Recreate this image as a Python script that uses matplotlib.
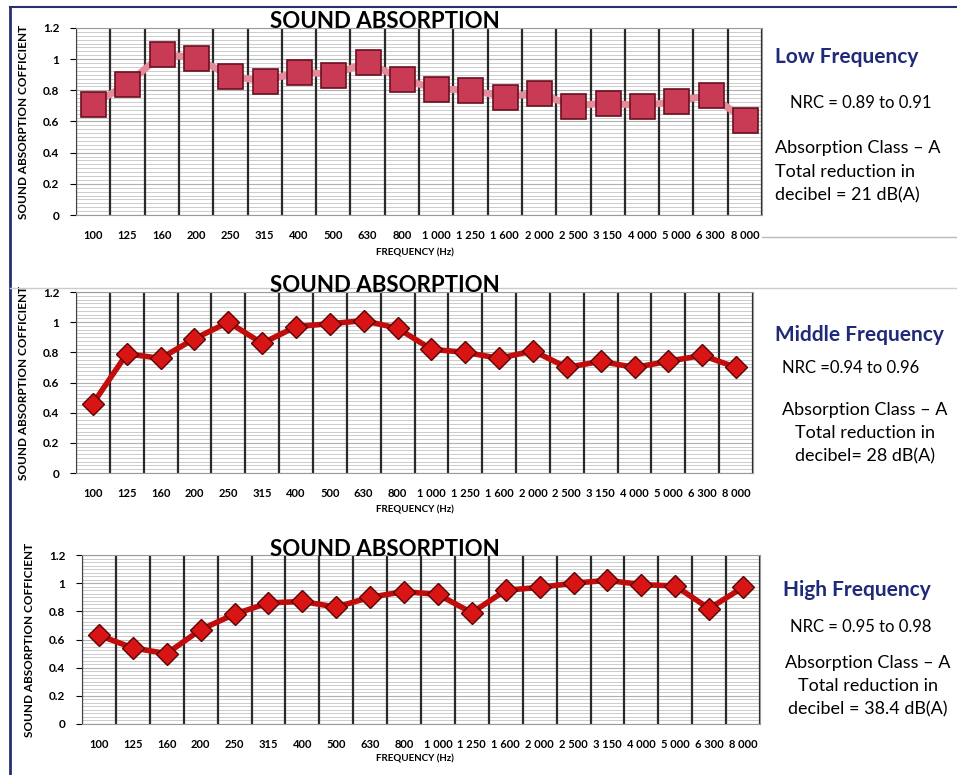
import numpy as np
import matplotlib.pyplot as plt
from matplotlib.lines import Line2D
from matplotlib.ticker import MultipleLocator

plt.rcParams['font.family'] = ['Lato', 'DejaVu Sans']

FREQS = ["100", "125", "160", "200", "250", "315", "400", "500", "630", "800",
         "1 000", "1 250", "1 600", "2 000", "2 500", "3 150", "4 000", "5 000",
         "6 300", "8 000"]

low_vals = [0.71, 0.84, 1.03, 1.01, 0.89, 0.86, 0.92, 0.90, 0.98, 0.87,
            0.81, 0.80, 0.76, 0.78, 0.70, 0.72, 0.70, 0.73, 0.77, 0.61]
mid_vals = [0.46, 0.79, 0.76, 0.89, 1.00, 0.86, 0.97, 0.99, 1.01, 0.96,
            0.82, 0.80, 0.76, 0.81, 0.70, 0.74, 0.70, 0.74, 0.78, 0.70]
high_vals = [0.63, 0.54, 0.50, 0.67, 0.78, 0.86, 0.87, 0.83, 0.90, 0.94,
             0.92, 0.79, 0.95, 0.97, 1.00, 1.02, 0.99, 0.98, 0.82, 0.97]

panel_names = ["Low Frequency", "Middle Frequency", "High Frequency"]
nrc_texts = ["NRC = 0.89 to 0.91", "NRC =0.94 to 0.96", "NRC = 0.95 to 0.98"]
db_texts = ["decibel = 21 dB(A)", "decibel= 28 dB(A)", "decibel = 38.4 dB(A)"]

W, H = 957, 775
fig = plt.figure(figsize=(W / 100, H / 100), dpi=100)
fig.patch.set_facecolor('white')


def fx(px):
    return px / W


def fy(py):
    return 1 - py / H


# axes boxes in pixels: left, top, right, bottom
boxes = [(76, 28, 762, 215), (76, 292, 753, 473), (82, 555, 760, 724)]
series = [low_vals, mid_vals, high_vals]
x = np.arange(len(FREQS))

for i, (box, vals) in enumerate(zip(boxes, series)):
    l, t, r, b = box
    ax = fig.add_axes([fx(l), fy(b), fx(r - l), (b - t) / H])
    ax.set_xlim(-0.5, len(FREQS) - 0.5)
    ax.set_ylim(0, 1.2)
    ax.yaxis.set_minor_locator(MultipleLocator(0.025))
    ax.grid(True, which='minor', axis='y', color='#c4c4c4', lw=0.6)
    ax.grid(True, which='major', axis='y', color='#b0b0b0', lw=0.8)
    for xb in np.arange(-0.5, len(FREQS), 1.0):
        ax.axvline(xb, color='#2a2a2a', lw=1.6, zorder=1)
    ax.set_axisbelow(True)
    for s in ['top', 'right', 'bottom']:
        ax.spines[s].set_color('#999999')
    ax.spines['left'].set_color('#444444')

    if i == 0:
        ax.plot(x, vals, color='#e58a98', lw=5, zorder=3)
        ax.plot(x, vals, ls='none', marker='s', ms=18, mfc='#c93a55',
                mec='#6a1020', mew=1.2, zorder=4)
    else:
        ax.plot(x, vals, color='#c20c0c', lw=4, zorder=3)
        ax.plot(x, vals, ls='none', marker='D', ms=11, mfc='#d81414',
                mec='#5a0505', mew=1.0, zorder=4)

    ax.set_yticks([0, 0.2, 0.4, 0.6, 0.8, 1.0, 1.2])
    ax.set_yticklabels(["0", "0.2", "0.4", "0.6", "0.8", "1", "1.2"],
                       fontsize=8.5, fontweight='bold')
    ax.set_xticks(x)
    ax.set_xticklabels(FREQS, fontsize=8, fontweight='bold')
    ax.tick_params(axis='x', length=0, pad=11)
    ax.tick_params(axis='y', which='major', length=4, pad=8)
    ax.tick_params(axis='y', which='minor', length=0)
    ax.set_ylabel("SOUND ABSORPTION COFFICIENT", fontsize=8.5,
                  fontweight='bold', labelpad=10)
    ax.set_xlabel("FREQUENCY (Hz)", fontsize=7, fontweight='bold')
    ax.xaxis.set_label_coords((415 - l) / (r - l), -0.18)

    fig.text(fx(385), fy(t - 6), "SOUND ABSORPTION", fontsize=16,
             fontweight='bold', ha='center', va='center', zorder=10)

# side notes
fs_head, fs_nrc, fs_body = 15, 12, 13
fig.text(fx(775), fy(57), panel_names[0], fontsize=fs_head, fontweight='bold',
         color='#1f2a78', va='center')
fig.text(fx(790), fy(103), nrc_texts[0], fontsize=fs_nrc, va='center')
fig.text(fx(775), fy(148), "Absorption Class \u2013 A", fontsize=fs_body,
         va='center')
fig.text(fx(775), fy(172), "Total reduction in", fontsize=fs_body, va='center')
fig.text(fx(775), fy(195), db_texts[0], fontsize=fs_body, va='center')

fig.text(fx(775), fy(335), panel_names[1], fontsize=fs_head, fontweight='bold',
         color='#1f2a78', va='center')
fig.text(fx(782), fy(368), nrc_texts[1], fontsize=fs_nrc, va='center')
fig.text(fx(865), fy(410), "Absorption Class \u2013 A", fontsize=fs_body,
         ha='center', va='center')
fig.text(fx(865), fy(433), "Total reduction in", fontsize=fs_body,
         ha='center', va='center')
fig.text(fx(865), fy(456), db_texts[1], fontsize=fs_body, ha='center',
         va='center')

fig.text(fx(783), fy(590), panel_names[2], fontsize=fs_head, fontweight='bold',
         color='#1f2a78', va='center')
fig.text(fx(790), fy(627), nrc_texts[2], fontsize=fs_nrc, va='center')
fig.text(fx(868), fy(663), "Absorption Class \u2013 A", fontsize=fs_body,
         ha='center', va='center')
fig.text(fx(868), fy(686), "Total reduction in", fontsize=fs_body,
         ha='center', va='center')
fig.text(fx(868), fy(709), db_texts[2], fontsize=fs_body, ha='center',
         va='center')

# frame and separators from the scanned page
fig.add_artist(Line2D([fx(10), fx(10)], [fy(7), fy(775)], color='#27306e', lw=2))
fig.add_artist(Line2D([fx(10), fx(957)], [fy(7), fy(7)], color='#27306e', lw=1.5))
fig.add_artist(Line2D([fx(762), fx(957)], [fy(237), fy(237)], color='#bbbbbb', lw=1))
fig.add_artist(Line2D([fx(10), fx(957)], [fy(288), fy(288)], color='#cccccc', lw=1))

fig.savefig('out.png', dpi=100)
